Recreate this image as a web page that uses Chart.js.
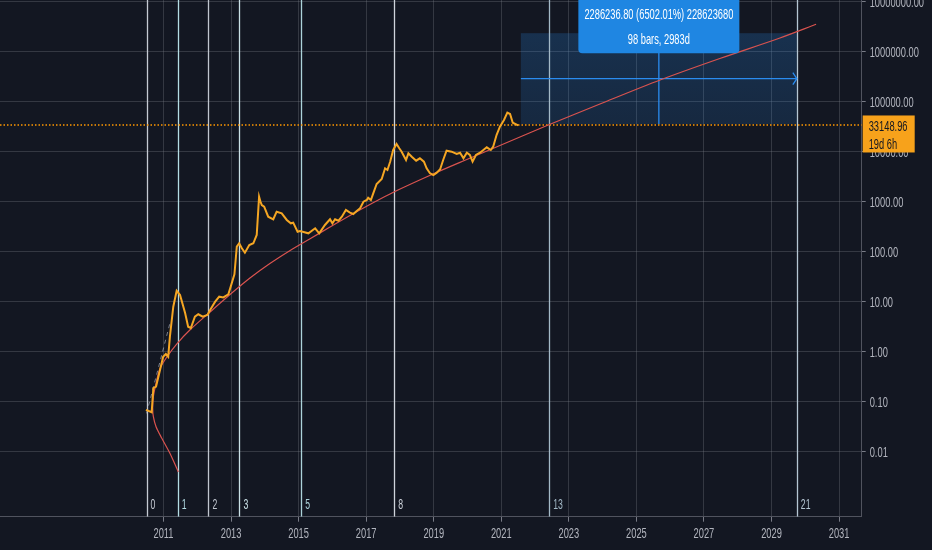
<!DOCTYPE html>
<html>
<head>
<meta charset="utf-8">
<script src="https://cdn.jsdelivr.net/npm/chart.js@4.4.1/dist/chart.umd.min.js"></script>
<style>
  html, body { margin: 0; padding: 0; background: #131722; }
  #wrap { width: 932px; height: 550px; position: relative; }
  canvas { display: block; }
</style>
</head>
<body>
<div id="wrap"><canvas id="c" width="932" height="550"></canvas></div>
<script>
// ---------- data ----------
const priceYears = [2010.48,2010.65,2010.70,2010.78,2010.99,2011.07,2011.14,2011.19,2011.29,2011.39,2011.49,2011.64,2011.73,2011.81,2011.93,2012.03,2012.16,2012.30,2012.38,2012.53,2012.65,2012.77,2012.92,2012.99,2013.10,2013.17,2013.24,2013.32,2013.41,2013.54,2013.66,2013.76,2013.83,2013.87,2013.91,2013.98,2014.10,2014.25,2014.35,2014.50,2014.65,2014.77,2014.84,2014.97,2015.04,2015.29,2015.49,2015.61,2015.78,2015.93,2016.00,2016.08,2016.18,2016.28,2016.40,2016.52,2016.62,2016.72,2016.82,2016.92,2017.02,2017.06,2017.14,2017.21,2017.31,2017.46,2017.56,2017.63,2017.71,2017.80,2017.90,2017.98,2018.05,2018.18,2018.25,2018.35,2018.48,2018.59,2018.71,2018.79,2018.89,2018.99,2019.09,2019.19,2019.28,2019.38,2019.53,2019.68,2019.78,2019.88,2019.98,2020.07,2020.15,2020.25,2020.37,2020.47,2020.57,2020.69,2020.76,2020.86,2020.96,2021.08,2021.18,2021.26,2021.34,2021.44,2021.50];
const priceValues = [0.068,0.061,0.186,0.198,0.787,0.891,0.787,1.98,7.87,16.4,13.5,5.89,3.13,2.95,4.97,5.55,4.97,5.37,6.76,9.91,12.5,12.1,13.9,19.8,35,125,146,116,94.6,135,146,214,1247,1000,851,787,497,441,625,581,427,366,377,249,257,231,291,231,339,441,366,441,413,497,676,597,562,646,731,991,1072,1191,1072,1459,2239,2818,4613,4266,6252,10715,14125,11588,9908,6761,9204,7870,6546,7311,6252,4613,3664,3388,3767,4406,6761,10375,9908,8913,9462,7311,9462,8511,6252,8511,9462,10715,12134,10715,12474,21380,31333,42658,59704,56234,37670,34995,33149];

const trendYears = [2011.44,2011.19,2010.95,2010.78,2010.70,2010.68,2010.70,2010.78,2010.90,2011.10,2011.39,2011.78,2012.38,2012.97,2013.56,2014.15,2014.75,2015.34,2015.93,2016.52,2017.11,2017.82,2018.98,2019.98,2020.96,2022.39,2023.92,2025.70,2027.47,2029.25,2030.32];
const trendValues = [0.0039,0.0092,0.0184,0.0313,0.0497,0.0741,0.125,0.231,0.461,0.776,1.41,2.69,6.17,13.8,29.5,57.5,105,180,309,525,871,1549,3548,6918,13183,33884,89125,269153,724436,1862087,3499452];

const guideYears = [2010.50, 2011.19];
const guideValues = [0.058, 3.66];

const fibYears  = [2010.50, 2011.42, 2012.33, 2013.25, 2015.08, 2017.83, 2022.42, 2029.75];
const fibLabels = ['0','1','2','3','5','8','13','21'];

const yearTicks  = [2011,2013,2015,2017,2019,2021,2023,2025,2027,2029,2031];
const priceTicks = [0.01,0.1,1,10,100,1000,10000,100000,1000000,10000000];

const lastPrice = 33148.96;
const lastPriceCountdown = '19d 6h';
const measureYears  = [2021.58, 2029.75];
const measureValues = [35162, 2321399];
const measureText1 = '2286236.80 (6502.01%) 228623680';
const measureText2 = '98 bars, 2983d';

// ---------- styling ----------
const FONT = "'Liberation Sans', Arial, sans-serif";
const SX = 0.62; // horizontal compression of the narrow labels
const BG = '#131722';
const GRID = 'rgba(120,123,134,0.33)';
const TEXT = '#b2b5be';
const ORANGE = '#f5a623';
const fibColors = ['#c5cad3','#b4dde4','#c0c6cf','#c9e0e6','#acd3da','#cfd4dc','#a3b9c7','#b5c6d3'];

const toXY = (xs, ys) => xs.map((x, i) => ({ x: x, y: ys[i] }));

function narrowText(ctx, text, x, y, align) {
  ctx.save();
  ctx.translate(x, y);
  ctx.scale(SX, 1);
  ctx.textAlign = align;
  ctx.fillText(text, 0, 0);
  ctx.restore();
}

const overlay = {
  id: 'overlay',
  beforeDatasetsDraw(chart) {
    const { ctx, chartArea: a, scales: { x, y } } = chart;
    ctx.save();
    ctx.beginPath();
    ctx.rect(a.left, a.top, a.right - a.left, a.bottom - a.top);
    ctx.clip();
    // measure box
    const bx0 = x.getPixelForValue(measureYears[0]);
    const bx1 = x.getPixelForValue(measureYears[1]);
    const by0 = y.getPixelForValue(measureValues[1]);
    const by1 = y.getPixelForValue(measureValues[0]);
    const g = ctx.createLinearGradient(0, by0, 0, by1);
    g.addColorStop(0, 'rgba(41,140,235,0.22)');
    g.addColorStop(1, 'rgba(41,140,235,0.15)');
    ctx.fillStyle = g;
    ctx.fillRect(bx0, by0, bx1 - bx0, by1 - by0);
    // fib time zones
    fibYears.forEach((fy, i) => {
      const px = Math.round(x.getPixelForValue(fy)) + 0.5;
      ctx.strokeStyle = fibColors[i];
      ctx.lineWidth = 1.3;
      ctx.beginPath();
      ctx.moveTo(px, a.top);
      ctx.lineTo(px, a.bottom);
      ctx.stroke();
    });
    // measure arrows
    const midX = (bx0 + bx1) / 2;
    const midY = y.getPixelForValue(Math.sqrt(measureValues[0] * measureValues[1]));
    ctx.strokeStyle = '#2a8cf0';
    ctx.lineWidth = 1.3;
    ctx.beginPath();
    ctx.moveTo(bx0, midY); ctx.lineTo(bx1, midY);
    ctx.moveTo(bx1 - 4, midY - 6); ctx.lineTo(bx1, midY); ctx.lineTo(bx1 - 4, midY + 6);
    ctx.moveTo(midX, by0); ctx.lineTo(midX, by1);
    ctx.stroke();
    // last price dotted line
    const py = Math.round(y.getPixelForValue(lastPrice));
    ctx.strokeStyle = '#ff9800';
    ctx.lineWidth = 1.6;
    ctx.setLineDash([1.5, 2]);
    ctx.beginPath();
    ctx.moveTo(a.left, py); ctx.lineTo(a.right, py);
    ctx.stroke();
    ctx.setLineDash([]);
    ctx.restore();
  },
  afterDatasetsDraw(chart) {
    const { ctx, chartArea: a, scales: { x, y } } = chart;
    ctx.save();
    // fib labels
    ctx.font = '14px ' + FONT;
    ctx.textBaseline = 'middle';
    fibYears.forEach((fy, i) => {
      const px = x.getPixelForValue(fy);
      ctx.fillStyle = fibColors[i];
      narrowText(ctx, fibLabels[i], px + 4, a.bottom - 12, 'left');
    });
    // measure label
    const bx0 = x.getPixelForValue(measureYears[0]);
    const bx1 = x.getPixelForValue(measureYears[1]);
    const by0 = y.getPixelForValue(measureValues[1]);
    const midX = (bx0 + bx1) / 2;
    const w = 161, top = -6, bottom = by0 + 20;
    ctx.fillStyle = '#1f86e2';
    ctx.beginPath();
    ctx.roundRect(midX - w / 2, top, w, bottom - top, 4);
    ctx.fill();
    ctx.fillStyle = '#ffffff';
    ctx.font = '15px ' + FONT;
    narrowText(ctx, measureText1, midX, 15, 'center');
    narrowText(ctx, measureText2, midX, 40, 'center');
    ctx.restore();
  },
  afterDraw(chart) {
    const { ctx, chartArea: a, scales: { x, y } } = chart;
    ctx.save();
    // axis labels, positioned by the chart's own scales
    ctx.fillStyle = TEXT;
    ctx.font = '15px ' + FONT;
    ctx.textBaseline = 'middle';
    x.ticks.forEach(t => narrowText(ctx, String(t.value), x.getPixelForValue(t.value), 534, 'center'));
    y.ticks.forEach(t => narrowText(ctx, Number(t.value).toFixed(2), a.right + 8, y.getPixelForValue(t.value) + 1, 'left'));
    // last price tag
    const py = y.getPixelForValue(lastPrice);
    ctx.fillStyle = '#f7a21b';
    ctx.fillRect(a.right + 1, py - 10, 52, 37);
    ctx.fillStyle = '#131722';
    ctx.font = '15px ' + FONT;
    narrowText(ctx, lastPrice.toFixed(2), a.right + 7, py + 1, 'left');
    narrowText(ctx, lastPriceCountdown, a.right + 7, py + 19, 'left');
    ctx.restore();
  }
};

new Chart(document.getElementById('c'), {
  type: 'line',
  data: {
    datasets: [
      { data: toXY(priceYears, priceValues), borderColor: ORANGE, borderWidth: 2, pointRadius: 0, tension: 0, order: 1 },
      { data: toXY(trendYears, trendValues), borderColor: '#d9534f', borderWidth: 1.2, pointRadius: 0, tension: 0.3, order: 2 },
      { data: toXY(guideYears, guideValues), borderColor: 'rgba(190,195,205,0.6)', borderWidth: 1, borderDash: [4, 4], pointRadius: 0, order: 3 }
    ]
  },
  options: {
    responsive: false,
    animation: false,
    devicePixelRatio: 1,
    layout: { padding: 0 },
    plugins: { legend: { display: false }, tooltip: { enabled: false } },
    scales: {
      x: {
        type: 'linear',
        min: 2006.16,
        max: 2031.67,
        afterBuildTicks: s => { s.ticks = yearTicks.map(v => ({ value: v })); },
        afterFit: s => { s.height = 33.3; s.paddingLeft = 0; s.paddingRight = 0; },
        grid: { color: GRID, lineWidth: 1, tickLength: 5, tickColor: '#787b86' },
        border: { display: true, color: '#50535e', width: 1 },
        ticks: { display: false, autoSkip: false, maxRotation: 0, callback: v => String(v) }
      },
      y: {
        type: 'logarithmic',
        position: 'right',
        min: 4.966e-4,
        max: 1.0715e7,
        afterBuildTicks: s => { s.ticks = priceTicks.map(v => ({ value: v })); },
        afterFit: s => { s.width = 70.3; s.paddingTop = 0; s.paddingBottom = 0; },
        grid: { color: GRID, lineWidth: 1, tickLength: 4, tickColor: '#787b86' },
        border: { display: true, color: '#50535e', width: 1 },
        ticks: { display: false, autoSkip: false, callback: v => Number(v).toFixed(2) }
      }
    }
  },
  plugins: [overlay, {
    id: 'bg',
    beforeDraw(chart) {
      const { ctx } = chart;
      ctx.save();
      ctx.fillStyle = BG;
      ctx.fillRect(0, 0, chart.width, chart.height);
      ctx.restore();
    }
  }]
});
</script>
</body>
</html>
